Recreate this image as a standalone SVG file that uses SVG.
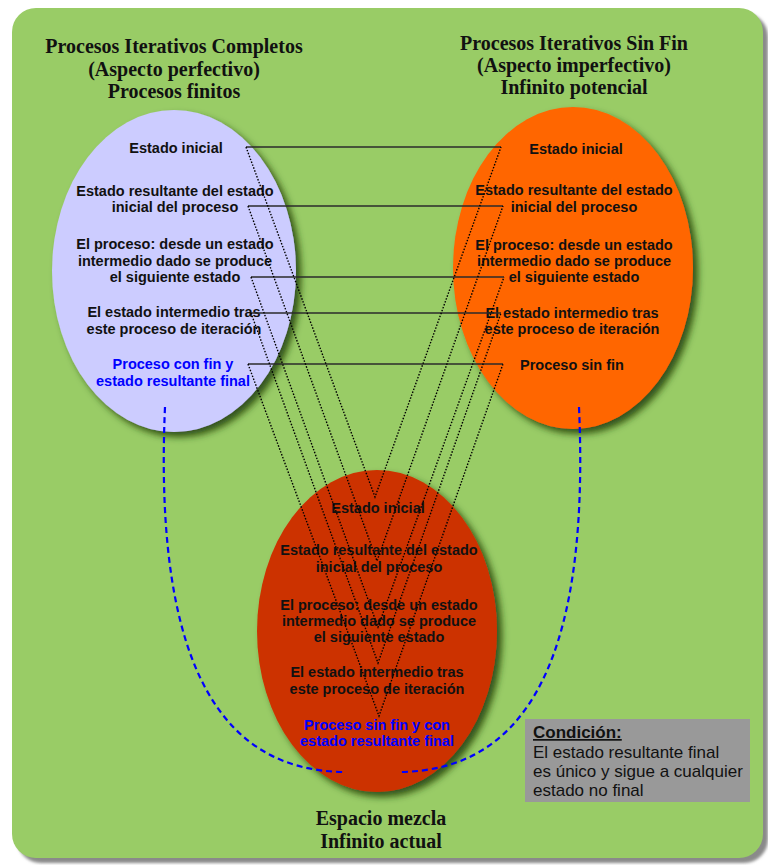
<svg xmlns="http://www.w3.org/2000/svg" width="768" height="865" viewBox="0 0 768 865">
  <defs>
    <filter id="panelShadow" x="-5%" y="-5%" width="110%" height="110%">
      <feGaussianBlur stdDeviation="1.5"/>
    </filter>
    <filter id="ovalShadow" x="-20%" y="-20%" width="140%" height="140%">
      <feGaussianBlur in="SourceAlpha" stdDeviation="3.5" result="blur"/>
      <feOffset in="blur" dx="5" dy="5" result="off"/>
      <feFlood flood-color="#1f3d0a" flood-opacity="0.85"/>
      <feComposite in2="off" operator="in" result="shadow"/>
      <feMerge>
        <feMergeNode in="shadow"/>
        <feMergeNode in="SourceGraphic"/>
      </feMerge>
    </filter>
    <style>
      .title { font-family: "Liberation Serif", "Times New Roman", serif; font-weight: bold; font-size: 20px; fill: #111; text-anchor: middle; }
      .item { font-family: "Liberation Sans", Arial, sans-serif; font-weight: bold; font-size: 14.5px; fill: #111; text-anchor: middle; }
      .blue { fill: #0000ff; }
      .link { stroke: #2b2b2b; stroke-width: 1.4; fill: none; }
      .dots { stroke: #000; stroke-width: 1.4; stroke-dasharray: 1.5 1.6; fill: none; }
      .arc { stroke: #0000ff; stroke-width: 2.2; stroke-dasharray: 6 4; fill: none; }
      .note { font-family: "Liberation Sans", Arial, sans-serif; font-size: 17px; fill: #111; }
    </style>
  </defs>

  <!-- panel -->
  <rect x="17" y="13" width="751" height="850" rx="24" fill="#8a8a8a" filter="url(#panelShadow)"/>
  <rect x="12" y="8" width="751" height="850" rx="24" fill="#99cc66"/>

  <!-- finite processes -->
  <g id="completos">
    <text class="title" x="174" y="53">Procesos Iterativos Completos</text>
    <text class="title" x="174" y="76">(Aspecto perfectivo)</text>
    <text class="title" x="174" y="98">Procesos finitos</text>
    <ellipse cx="174" cy="271" rx="122" ry="161" fill="#ccccff" filter="url(#ovalShadow)"/>
    <text class="item" x="176" y="153">Estado inicial</text>
    <text class="item" x="175" y="196">Estado resultante del estado</text>
    <text class="item" x="175" y="212">inicial del proceso</text>
    <text class="item" x="175" y="249">El proceso: desde un estado</text>
    <text class="item" x="175" y="265.5">intermedio dado se produce</text>
    <text class="item" x="175" y="282">el siguiente estado</text>
    <text class="item" x="174" y="317">El estado intermedio tras</text>
    <text class="item" x="174" y="333.5">este proceso de iteración</text>
    <text class="item blue" x="173" y="369">Proceso con fin y</text>
    <text class="item blue" x="173" y="385.5">estado resultante final</text>
  </g>

  <!-- endless processes -->
  <g id="sin-fin">
    <text class="title" x="574" y="50">Procesos Iterativos Sin Fin</text>
    <text class="title" x="574" y="72">(Aspecto imperfectivo)</text>
    <text class="title" x="574" y="94">Infinito potencial</text>
    <ellipse cx="573" cy="268" rx="120" ry="161" fill="#ff6600" filter="url(#ovalShadow)"/>
    <text class="item" x="576" y="154">Estado inicial</text>
    <text class="item" x="574" y="195">Estado resultante del estado</text>
    <text class="item" x="574" y="212">inicial del proceso</text>
    <text class="item" x="574" y="250">El proceso: desde un estado</text>
    <text class="item" x="574" y="266">intermedio dado se produce</text>
    <text class="item" x="574" y="282">el siguiente estado</text>
    <text class="item" x="572" y="318">El estado intermedio tras</text>
    <text class="item" x="572" y="334">este proceso de iteración</text>
    <text class="item" x="572" y="370">Proceso sin fin</text>
  </g>

  <!-- mixed space -->
  <g id="mezcla">
    <ellipse cx="377" cy="631" rx="120" ry="161" fill="#cc3300" filter="url(#ovalShadow)"/>
    <text class="item" x="378" y="513">Estado inicial</text>
    <text class="item" x="379" y="555">Estado resultante del estado</text>
    <text class="item" x="379" y="571.5">inicial del proceso</text>
    <text class="item" x="379" y="610">El proceso: desde un estado</text>
    <text class="item" x="379" y="626">intermedio dado se produce</text>
    <text class="item" x="379" y="642">el siguiente estado</text>
    <text class="item" x="377" y="677">El estado intermedio tras</text>
    <text class="item" x="377" y="693.5">este proceso de iteración</text>
    <text class="item blue" x="377" y="730">Proceso sin fin y con</text>
    <text class="item blue" x="377" y="746">estado resultante final</text>
    <text class="title" x="381" y="825">Espacio mezcla</text>
    <text class="title" x="381" y="848">Infinito actual</text>
  </g>

  <!-- condition note -->
  <g id="condicion">
    <rect x="525" y="719" width="225" height="83" fill="#999999"/>
    <text class="note" x="533" y="738" font-weight="bold" text-decoration="underline">Condición:</text>
    <text class="note" x="533" y="758">El estado resultante final</text>
    <text class="note" x="533" y="777">es único y sigue a cualquier</text>
    <text class="note" x="533" y="796">estado no final</text>
  </g>

  <g id="connectors">
    <!-- correspondences between the two kinds of process -->
    <line class="link" x1="246" y1="147" x2="501" y2="147"/>
    <line class="link" x1="248" y1="206" x2="503" y2="206"/>
    <line class="link" x1="251" y1="277" x2="504" y2="277"/>
    <line class="link" x1="251" y1="313" x2="501" y2="313"/>
    <line class="link" x1="248" y1="364" x2="503" y2="364"/>

    <!-- both states meet in the mixed space -->
    <polyline class="dots" points="246,147 375,497 501,147"/>
    <polyline class="dots" points="248,206 377,561 503,206"/>
    <polyline class="dots" points="251,277 378,627 504,277"/>
    <polyline class="dots" points="251,313 378,663 501,313"/>
    <polyline class="dots" points="248,364 379,716 503,364"/>

    <!-- arcs from each end state to the mixed space -->
    <path class="arc" d="M165,407 C153,680 230,770 343,772"/>
    <path class="arc" d="M579,407 C591,680 514,770 401,772"/>
  </g>
</svg>
